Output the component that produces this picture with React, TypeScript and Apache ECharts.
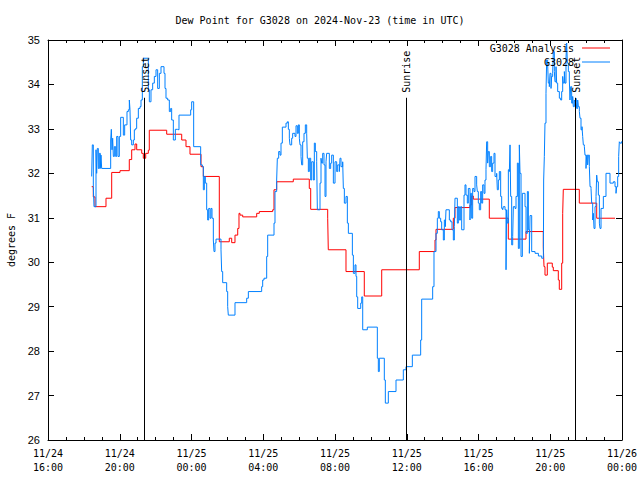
import React, { useEffect, useRef } from 'react';
import * as echarts from 'echarts';

// x values are hours after 2024-11-24 16:00 UTC
const xTickLabels = [
  '11/24\n16:00', '11/24\n20:00', '11/25\n00:00', '11/25\n04:00', '11/25\n08:00',
  '11/25\n12:00', '11/25\n16:00', '11/25\n20:00', '11/26\n00:00',
];

const sunLabels = ['Sunset', 'Sunrise', 'Sunset'];
const sunHours = [5.352, 19.958, 29.38];
const sunLineTop = 33.7;

const legendNames = ['G3028 Analysis', 'G3028'];

const redHours = [
  2.436, 2.525, 2.62, 3.233, 3.551, 4.014, 4.532, 4.666, 4.85, 4.945, 5.224, 5.313, 5.447, 5.592,
  5.647, 6.617, 7.454, 7.693, 7.916, 8.53, 8.658, 9.55, 10.107, 10.241, 10.425, 10.576, 10.648,
  10.704, 10.854, 11.635, 11.78, 12.527, 12.599, 12.75, 13.675, 14.567, 14.645, 15.593, 15.626,
  16.613, 17.633, 18.604, 20.7, 21.575, 21.631, 22.596, 22.69, 23.526, 23.621, 23.71, 24.602,
  25.662, 26.648, 27.613, 27.652, 27.707, 27.836, 28.114, 28.17, 28.449, 28.505, 28.638, 28.694,
  28.728, 29.62, 30.59, 31.61,
];
const redValues = [
  31.7, 31.47, 31.25, 31.44, 32.02, 32.06, 32.31, 32.53, 32.66, 32.53, 32.45, 32.34, 32.45, 32.52,
  32.97, 32.88, 32.75, 32.6, 32.43, 32.15, 31.93, 30.46, 30.54, 30.44, 30.61, 30.76, 31.1,
  31.06, 31.02, 31.1, 31.14, 31.18, 31.63, 31.81, 31.87, 31.66, 31.19, 30.99, 30.28,
  29.79, 29.24, 29.83, 30.24, 30.5, 30.74, 30.99, 31.23, 31.29, 31.49, 31.42, 30.99,
  30.52, 30.69, 30.35, 29.9, 29.71, 29.98, 29.89, 29.81, 29.6, 29.39, 29.98, 31.1,
  31.64, 31.33, 30.99, 30.99,
];

const blueHours = [
  2.434, 2.471, 2.527, 2.564, 2.676, 2.713, 2.75, 2.806, 2.862, 2.917, 2.955, 2.992, 3.494, 3.531,
  3.568, 3.605, 3.642, 3.698, 3.772, 3.828, 3.902, 3.977, 4.051, 4.2, 4.274, 4.404, 4.478, 4.534,
  4.571, 4.609, 4.665, 4.757, 4.813, 4.887, 4.943, 5.036, 5.129, 5.185, 5.259, 5.315, 5.593, 5.649,
  5.742, 5.835, 5.928, 6.021, 6.114, 6.207, 6.3, 6.467, 6.523, 6.578, 6.671, 6.764, 6.839, 6.894,
  6.987, 7.099, 7.21, 7.303, 7.954, 8.009, 8.121, 8.511, 8.604,
  8.66, 8.716, 8.771, 8.846, 8.901, 8.957, 9.031, 9.087, 9.143, 9.217, 9.254, 9.31, 9.366, 9.645,
  9.682, 9.738, 9.961, 10.017, 10.053, 10.425, 11.076, 11.169, 11.912, 11.968, 12.042, 12.191,
  12.247, 12.6, 12.655, 12.748, 12.785, 12.86, 12.934, 12.99, 13.064, 13.269, 13.343, 13.399,
  13.454, 13.492, 13.585, 13.64, 13.77, 13.826, 13.9, 13.956, 14.012, 14.049, 14.105, 14.142,
  14.198, 14.272, 14.346, 14.421, 14.458, 14.514, 14.569, 14.644, 14.7, 14.793, 14.848, 14.904,
  14.979, 15.016, 15.164, 15.22, 15.257, 15.313, 15.387, 15.443, 15.499, 15.536, 15.684, 15.759,
  15.815, 15.908, 16.001, 16.094, 16.15, 16.243, 16.28, 16.335, 16.428, 16.466, 16.521, 16.614,
  16.689, 16.745, 16.968, 17.024, 17.115, 17.17, 17.21, 17.265, 17.433, 17.489, 17.545, 17.802,
  18.36, 18.416, 18.471, 18.75, 18.806, 18.973, 19.401, 19.809, 19.958, 20.311, 20.776, 20.832,
  21.445, 21.519, 21.631,
  21.705, 21.76, 21.817, 21.891, 21.947, 22.04, 22.095, 22.151, 22.188, 22.374, 22.448, 22.523,
  22.597, 22.653, 22.69, 22.82, 22.876, 22.932, 23.006, 23.062, 23.192, 23.247, 23.303, 23.377,
  23.433, 23.526, 23.563, 23.619, 23.675, 23.749, 23.805, 23.898, 23.935, 23.991, 24.046, 24.121,
  24.177, 24.232, 24.307, 24.362, 24.418, 24.455, 24.511, 24.548, 24.604, 24.678, 24.734, 24.79,
  24.864, 24.92, 25.013, 25.05, 25.106, 25.162, 25.236, 25.292, 25.347, 25.385, 25.478, 25.534,
  25.571, 25.608, 25.664, 25.72, 25.757, 25.794, 25.85, 25.906, 25.943, 26.036, 26.092, 26.166,
  26.222, 26.277, 26.315, 26.371, 26.445, 26.594, 26.65, 26.724, 26.78, 26.836, 26.873, 26.966,
  27.152, 27.338, 27.524, 27.617,
  27.633, 27.67, 27.707, 27.763, 27.8, 27.856, 27.893, 27.949, 27.986, 28.042, 28.079, 28.135,
  28.172, 28.228, 28.265, 28.321, 28.358, 28.414, 28.507, 28.581, 28.637, 28.693, 28.73, 28.786,
  28.823, 28.878, 28.916, 28.953, 29.009, 29.064, 29.101, 29.139, 29.194, 29.25, 29.287, 29.343,
  29.38, 29.436, 29.473, 29.529, 29.566, 29.622, 29.659, 29.715, 29.77, 29.808, 29.845, 29.901,
  29.938, 29.993, 30.031, 30.087, 30.124, 30.18, 30.217, 30.273, 30.31, 30.366, 30.403, 30.44,
  30.496, 30.552, 30.589, 30.626, 30.682, 30.738, 30.775, 30.831, 30.96, 31.108, 31.331, 31.517,
  31.61, 31.666, 31.703, 31.759, 31.814, 31.851, 31.889, 31.98,
];
const blueValues = [
  31.93, 32.64, 31.7, 31.25, 32.53, 32.0, 32.56, 32.11, 32.45, 32.11, 32.41, 32.11, 32.75, 32.99,
  32.53, 32.79, 32.38, 32.6, 32.38, 32.83, 32.38, 32.83, 33.26, 32.86, 33.09, 33.39, 33.43, 33.65,
  33.43, 32.75, 32.64, 32.75, 32.98, 33.01, 33.24, 33.46, 33.5, 33.65, 34.4, 34.59, 33.88, 33.61,
  33.88, 34.03, 34.18, 34.33, 33.91, 34.25, 34.4, 34.25, 33.91, 33.69, 33.65, 33.39, 33.46, 33.2,
  32.75, 32.99, 32.98, 33.31, 33.43, 33.61, 32.6, 32.19, 32.15,
  31.63, 31.93, 31.78, 31.18, 30.95, 31.21, 30.99, 31.21, 30.99, 30.5, 30.24, 30.43, 30.52, 30.28,
  29.79, 29.54, 29.34, 29.0, 28.81, 29.09, 29.19, 29.34, 29.45, 29.6, 29.64, 30.13,
  30.61, 30.88, 31.59, 31.85, 32.34, 32.49, 32.41, 32.68, 33.04, 33.13, 33.16, 32.99,
  32.79, 32.64, 32.79, 32.9, 32.83, 33.07, 32.9, 33.09, 32.79, 32.64, 32.38, 32.19,
  32.71, 32.9, 33.09, 32.9, 32.34, 32.04, 32.34, 31.85, 32.26, 31.85, 32.68, 32.49,
  32.26, 31.18, 31.78, 32.34, 32.23, 32.45, 32.19, 31.48, 32.26, 32.45, 32.11, 32.23,
  32.41, 31.78, 32.26, 32.04, 32.19, 32.04, 32.34, 32.15, 32.26, 31.66, 31.33, 31.48,
  30.88, 30.65, 30.16, 29.75, 29.94, 29.68, 29.22, 28.96, 29.08, 29.22, 28.48, 28.54,
  27.84, 27.54, 27.84, 27.35, 26.83, 27.09, 27.35, 27.58, 27.65, 27.91, 28.25, 29.17,
  29.45, 30.24, 30.65,
  30.99, 31.14, 30.99, 30.91, 30.73, 30.5, 30.95, 30.8, 31.18, 30.95, 30.91, 30.73,
  30.5, 30.8, 31.44, 30.88, 31.25, 30.95, 31.25, 30.73, 31.51, 31.74, 31.51, 31.33,
  31.66, 30.95, 31.55, 30.99, 31.66, 31.59, 31.93, 31.74, 31.59, 31.33, 31.18, 31.59,
  31.33, 31.74, 31.55, 31.85, 32.08, 32.71, 32.23, 32.49, 32.15, 32.38, 32.04, 32.23,
  32.45, 31.93, 32.0, 31.63, 31.85, 32.04, 31.48, 31.21, 31.18, 31.25, 31.18, 29.83,
  31.18, 30.88, 32.08, 32.04, 32.64, 31.48, 30.39, 30.58, 31.25, 31.21, 31.48, 32.23,
  30.31, 32.64, 32.0, 30.13, 31.55, 31.25, 30.65, 31.59, 30.73, 30.2, 31.05, 30.24,
  30.2, 30.14, 30.09, 30.09,
  31.85, 32.38, 33.13, 33.8, 34.55, 34.44, 34.03, 33.95, 34.25, 33.91, 34.18, 34.25,
  34.74, 34.29, 34.06, 34.4, 34.03, 33.84, 33.69, 33.65, 33.84, 34.18, 34.03, 34.29,
  34.03, 34.59, 34.93, 34.48, 34.29, 34.1, 33.65, 33.95, 33.58, 33.73, 33.5, 33.65,
  33.61, 33.69, 33.46, 33.65, 33.5, 33.39, 33.24, 32.98, 33.05, 32.83, 32.64, 32.6,
  32.41, 32.11, 32.41, 32.19, 32.41, 32.15, 31.7, 31.66, 31.33, 30.95, 31.1, 30.76,
  31.25, 31.48, 31.96, 31.81, 31.51, 30.88, 30.76, 31.21, 31.48, 32.0, 31.78, 31.81,
  31.7, 31.55, 31.7, 31.93, 32.38, 32.71, 32.68, 32.72,
];

const pair = (ts: number[], vs: number[]) => ts.map((t, i) => [t, vs[i]]);

export default function App() {
  const ref = useRef<HTMLDivElement>(null);
  useEffect(() => {
    if (!ref.current) return;
    const chart = echarts.init(ref.current, null, { renderer: 'svg' });
    const mono = 'DejaVu Sans Mono';
    const black = '#000';
    const baseX = {
      type: 'value', min: 0, max: 32, interval: 4,
      axisLine: { onZero: false, lineStyle: { color: black, width: 1 } },
      axisTick: { inside: true, length: 6, lineStyle: { color: black } },
      minorTick: { show: true, splitNumber: 4, length: 3, lineStyle: { color: black } },
      splitLine: { show: false },
    };
    const baseY = {
      type: 'value', min: 26, max: 35, interval: 1,
      axisLine: { onZero: false, lineStyle: { color: black, width: 1 } },
      axisTick: { inside: true, length: 6, lineStyle: { color: black } },
      splitLine: { show: false },
    };
    const option: any = {
      animation: false,
      backgroundColor: '#fff',
      title: {
        text: 'Dew Point for G3028 on 2024-Nov-23 (time in UTC)',
        left: 'center', top: 10,
        textStyle: { fontFamily: mono, fontSize: 10, fontWeight: 'normal', color: black },
      },
      grid: { left: 48, right: 18, top: 40, bottom: 40, containLabel: false, outerBoundsMode: 'none' },
      xAxis: [
        {
          ...baseX, position: 'bottom',
          axisLabel: {
            formatter: (v: number) => xTickLabels[Math.round(v / 4)] ?? '',
            fontFamily: mono, fontSize: 10, color: black, lineHeight: 14, margin: 6,
          },
        },
        { ...baseX, position: 'top', axisLabel: { show: false } },
      ],
      yAxis: [
        {
          ...baseY, position: 'left',
          name: 'degrees F', nameLocation: 'middle', nameGap: 32, nameRotate: 90,
          nameTextStyle: { fontFamily: mono, fontSize: 10, color: black },
          axisLabel: { fontFamily: 'Liberation Sans', fontSize: 11, color: black, margin: 8 },
        },
        { ...baseY, position: 'right', axisLabel: { show: false } },
      ],
      series: [
        {
          name: legendNames[0], type: 'line', xAxisIndex: 0, yAxisIndex: 0,
          data: pair(redHours, redValues), step: 'end', symbol: 'none', showSymbol: false,
          lineStyle: { color: '#ff0000', width: 1 }, itemStyle: { color: '#ff0000' },
          z: 2,
          markLine: {
            silent: true, symbol: ['none', 'none'],
            label: { show: false },
            lineStyle: { color: black, width: 1, type: 'solid' },
            data: sunHours.map((t) => [{ coord: [t, sunLineTop] }, { coord: [t, 26] }]),
          },
        },
        {
          name: legendNames[1], type: 'line', xAxisIndex: 0, yAxisIndex: 0,
          data: pair(blueHours, blueValues), step: 'end', symbol: 'none', showSymbol: false,
          lineStyle: { color: '#0080ff', width: 1 }, itemStyle: { color: '#0080ff' },
          z: 3,
        },
      ],
    };
    chart.setOption(option);

    const graphics: any[] = [];
    sunHours.forEach((t, i) => {
      const p = chart.convertToPixel({ gridIndex: 0 }, [t, sunLineTop]) as number[];
      graphics.push({
        type: 'text', x: p[0] + 1, y: p[1] - 5, rotation: Math.PI / 2, z: 10,
        style: { text: sunLabels[i], font: `10px "${mono}"`, fill: black, align: 'left', verticalAlign: 'middle' },
      });
    });
    const legendColors = ['#ff0000', '#0080ff'];
    legendNames.forEach((n, i) => {
      const y = 48 + i * 14;
      graphics.push({
        type: 'text', x: 574, y, z: 10,
        style: { text: n, font: `10px "${mono}"`, fill: black, align: 'right', verticalAlign: 'middle' },
      });
      graphics.push({
        type: 'line', z: 10,
        shape: { x1: 582, y1: y, x2: 610, y2: y },
        style: { stroke: legendColors[i], lineWidth: 1 },
      });
    });
    chart.setOption({ graphic: graphics });

    return () => chart.dispose();
  }, []);
  return (
    <div
      ref={ref}
      style={{ position: 'fixed', left: 0, top: 0, width: 640, height: 480, background: '#fff' }}
    />
  );
}
